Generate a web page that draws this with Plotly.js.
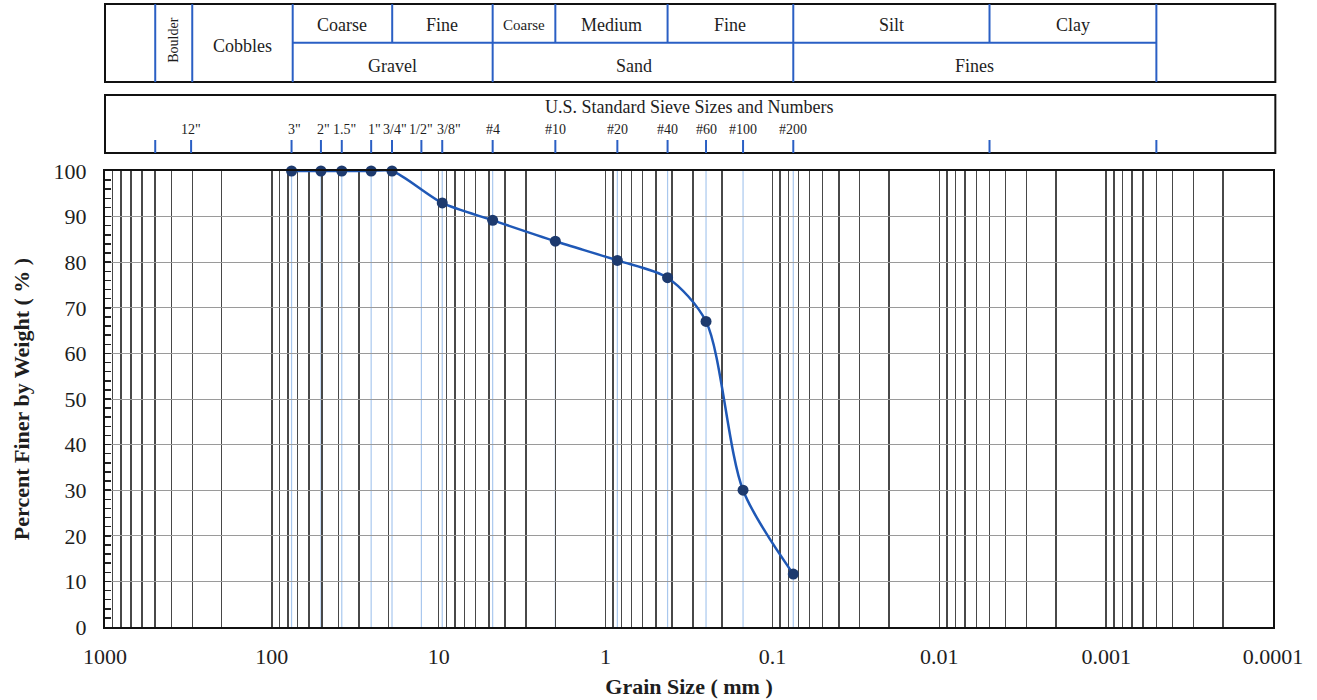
<!DOCTYPE html>
<html>
<head>
<meta charset="utf-8">
<script src="https://cdn.plot.ly/plotly-3.0.1.min.js"></script>
<style>html,body{margin:0;padding:0;background:#fff;}#chart{width:1317px;height:700px;}</style>
</head>
<body>
<div id="chart"></div>
<script>
// ---- data ----
const sampleSizeMm = [76.2, 50.8, 38.1, 25.4, 19.05, 9.525, 4.75, 2.0, 0.85, 0.425, 0.25, 0.15, 0.075];
const percentFiner = [100, 100, 100, 100, 100, 93, 89.2, 84.6, 80.4, 76.6, 67, 30, 11.6];

const sieveLabels = ['12"', '3"', '2"', '1.5"', '1"', '3/4"', '1/2"', '3/8"', '#4', '#10', '#20', '#40', '#60', '#100', '#200'];
const sieveMm = [304.8, 76.2, 50.8, 38.1, 25.4, 19.05, 12.7, 9.525, 4.75, 2.0, 0.85, 0.425, 0.25, 0.15, 0.075];

const decadeValues = [1000, 100, 10, 1, 0.1, 0.01, 0.001, 0.0001];
const decadeLabels = ['1000', '100', '10', '1', '0.1', '0.01', '0.001', '0.0001'];

// soil classification boundaries (mm)
const fullBoundaries = [500, 300, 75, 4.75, 0.075, 0.0005];
const halfBoundaries = [19, 2, 0.425, 0.005];
const subLabels = ['Coarse', 'Fine', 'Coarse', 'Medium', 'Fine', 'Silt', 'Clay'];
const subLo = [75, 19, 4.75, 2, 0.425, 0.075, 0.005];
const subHi = [19, 4.75, 2, 0.425, 0.075, 0.005, 0.0005];
const groupLabels = ['Gravel', 'Sand', 'Fines'];
const groupLo = [75, 4.75, 0.075];
const groupHi = [4.75, 0.075, 0.0005];

// ---- helpers ----
const SERIF = 'Liberation Serif, Times New Roman, serif';
const TXT = '#1e1e1e';
const BLUE = '#2a5fc4';
const gm = (a, b) => Math.sqrt(a * b);

// all 1..9 x decade tick positions for the grid
const tickvals = [], ticktext = [];
for (let e = 3; e >= -4; e--) {
  for (let k = 9; k >= 1; k--) {
    const v = k * Math.pow(10, e);
    if (v > 1000 || v < 0.0001) continue;
    const v2 = parseFloat(v.toPrecision(3));
    tickvals.push(v2);
    const idx = decadeValues.indexOf(v2);
    ticktext.push(k === 1 && idx >= 0 ? decadeLabels[idx] : '');
  }
}

const Y1B = 1.195, Y1T = 1.366, Y1M = 1.281;
const Y2B = 1.0395, Y2T = 1.1667, Y2TK = 1.068;

const shapes = [];
// box outlines
shapes.push({type: 'rect', xref: 'paper', yref: 'paper', x0: 0, x1: 1.002, y0: Y1B, y1: Y1T, line: {color: '#111', width: 2}});
shapes.push({type: 'rect', xref: 'paper', yref: 'paper', x0: 0, x1: 1.002, y0: Y2B, y1: Y2T, line: {color: '#111', width: 2}});
// classification dividers
fullBoundaries.forEach(v => shapes.push({type: 'line', xref: 'x', yref: 'paper', x0: v, x1: v, y0: Y1B, y1: Y1T, line: {color: BLUE, width: 2}}));
halfBoundaries.forEach(v => shapes.push({type: 'line', xref: 'x', yref: 'paper', x0: v, x1: v, y0: Y1M, y1: Y1T, line: {color: BLUE, width: 2}}));
shapes.push({type: 'line', xref: 'x', yref: 'paper', x0: 75, x1: 0.0005, y0: Y1M, y1: Y1M, line: {color: BLUE, width: 2}});
// sieve ticks in box 2
const box2Ticks = sieveMm.concat([500, 0.005, 0.0005]);
box2Ticks.forEach(v => shapes.push({type: 'line', xref: 'x', yref: 'paper', x0: v, x1: v, y0: Y2B, y1: Y2TK, line: {color: BLUE, width: 2}}));
// light blue sieve lines in plot
sieveMm.slice(1).forEach(v => shapes.push({type: 'line', xref: 'x', yref: 'paper', x0: v, x1: v, y0: 0, y1: 1, layer: 'between', line: {color: '#a9c8ee', width: 1.2}}));

const annotations = [];
const ann = (x, y, text, size, extra) => Object.assign({xref: 'x', yref: 'paper', x: Math.log10(x), y: y, text: text, showarrow: false, xanchor: 'center', yanchor: 'middle', font: {family: SERIF, size: size, color: TXT}}, extra || {});
annotations.push(ann(gm(500, 300), 1.2873, 'Boulder', 14, {textangle: -90}));
annotations.push(ann(gm(300, 75), 1.2741, 'Cobbles', 18));
subLabels.forEach((t, i) => annotations.push(ann(gm(subLo[i], subHi[i]), 1.3202, t, i === 2 ? 15 : 18)));
groupLabels.forEach((t, i) => annotations.push(ann(gm(groupLo[i], groupHi[i]), 1.2303, t, 18, i === 1 ? {xshift: -9} : {})));
annotations.push({xref: 'paper', yref: 'paper', x: 0.5, y: 1.1404, text: 'U.S. Standard Sieve Sizes and Numbers', showarrow: false, xanchor: 'center', yanchor: 'middle', font: {family: SERIF, size: 18, color: TXT}});
sieveLabels.forEach((t, i) => {
  const inch = t.indexOf('"') >= 0 && i > 0;
  const shift = t === '3/8"' ? 7 : (t === '1/2"' ? 0 : (inch ? 3 : 0));
  annotations.push(ann(sieveMm[i], 1.0921, t, 14, {xshift: shift}));
});

const trace = {
  type: 'scatter', mode: 'lines+markers',
  x: sampleSizeMm, y: percentFiner,
  line: {color: '#1f58b6', width: 2.5, shape: 'spline', smoothing: 0.8},
  marker: {color: '#1d3a6e', size: 11},
  cliponaxis: false, hoverinfo: 'x+y'
};

const layout = {
  width: 1317, height: 700,
  margin: {l: 105, r: 44, t: 171, b: 73},
  paper_bgcolor: '#fff', plot_bgcolor: '#fff',
  showlegend: false,
  xaxis: {
    type: 'log', range: [3, -4], autorange: false,
    tickmode: 'array', tickvals: tickvals, ticktext: ticktext,
    showgrid: true, gridcolor: '#484848', gridwidth: 1.5,
    ticks: '', showline: true, mirror: true, linecolor: '#111', linewidth: 2,
    zeroline: false, ticklabelstandoff: 9,
    tickfont: {family: SERIF, size: 22, color: TXT},
    title: {text: '<b>Grain Size ( mm )</b>', font: {family: SERIF, size: 22, color: TXT}, standoff: 10}
  },
  yaxis: {
    range: [0, 100], autorange: false, dtick: 10, tick0: 0,
    showgrid: true, gridcolor: '#9a9a9a', gridwidth: 1,
    ticks: 'inside', ticklen: 6, tickcolor: '#222', tickwidth: 1.5,
    minor: {dtick: 2, ticks: 'inside', ticklen: 6, tickcolor: '#222', tickwidth: 1.5, showgrid: false},
    showline: true, mirror: true, linecolor: '#111', linewidth: 2,
    zeroline: false, ticklabelstandoff: 12,
    tickfont: {family: SERIF, size: 22, color: TXT},
    title: {text: '<b>Percent Finer by Weight ( % )</b>', font: {family: SERIF, size: 22, color: TXT}, standoff: 18}
  },
  shapes: shapes,
  annotations: annotations
};

Plotly.newPlot('chart', [trace], layout, {displayModeBar: false, staticPlot: true});
</script>
</body>
</html>
